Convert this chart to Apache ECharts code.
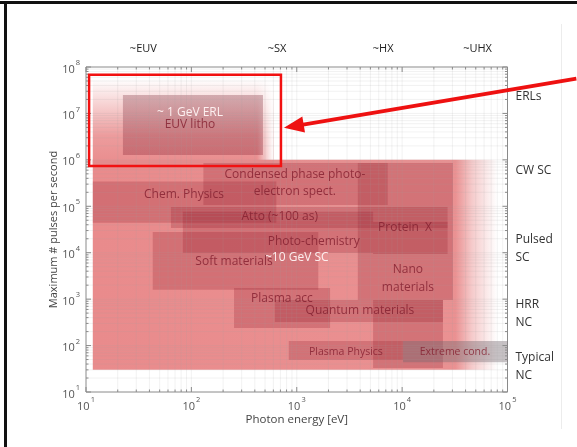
<!DOCTYPE html>
<html>
<head>
<meta charset="utf-8">
<script src="https://cdn.jsdelivr.net/npm/echarts@6/dist/echarts.min.js"></script>
<style>
html, body { margin: 0; padding: 0; background: #fff; }
#chart { width: 577px; height: 447px; }
</style>
</head>
<body>
<div id="chart"></div>
<script>
// ---- Axis ranges ----
const energyRange = [10, 1e5];        // photon energy [eV]
const pulseRange = [10, 1e8];         // max pulses per second

// ---- Application regions (energy span [eV], pulse-rate span [1/s]) ----
const regionNames = ['Condensed phase', 'Chem. Physics', 'Atto', 'Photo-chemistry', 'Soft materials',
  'Plasma acc', 'Quantum materials', 'Plasma Physics', 'Nano materials', 'Protein X', 'Nano column', 'Extreme cond.'];
const regionEmin = [130, 11.6, 64, 83, 43, 254, 620, 840, 3800, 5300, 5300, 10200];
const regionEmax = [7300, 640, 27000, 5300, 1600, 2070, 24400, 10200, 30400, 27000, 24400, 1e5];
const regionNmin = [1.07e5, 4.4e4, 3.4e4, 9.9e3, 1.6e3, 240, 320, 49, 960, 9.4e3, 33, 44];
const regionNmax = [8.6e5, 3.4e5, 9.7e4, 7.6e4, 2.8e4, 1.74e3, 960, 126, 8.6e5, 4.6e4, 960, 126];

// ---- Source envelopes ----
const cwEnvelopeE = [11.6, 8e4];      // energy span, fades out above cwFadeStart
const cwFadeStart = 3.2e4;
const cwEnvelopeN = [30, 1e6];
const erlEnvelopeE = [11.6, 600];
const erlFadeStart = 420;
const erlEnvelopeN = [7.4e5, 5.5e7];
const erlCoreE = [22.4, 478];
const erlCoreN = [1.28e6, 2.5e7];

// ---- Highlight box around the ERL region ----
const highlightE = [10.7, 708];
const highlightN = [7.4e5, 6.8e7];
const arrowTip = [708, 4.9e6];
const arrowTail = [4.5e5, 5.6e7];

// ---- Region labels ----
const labelTexts = ['~ 1 GeV ERL', 'EUV litho', 'Condensed phase photo-', 'electron spect.', 'Chem. Physics',
  'Atto (~100 as)', 'Protein  X', 'Photo-chemistry', '~10 GeV SC', 'Soft materials', 'Nano', 'materials',
  'Plasma acc', 'Quantum materials', 'Plasma Physics', 'Extreme cond.'];
const labelE = [97, 97, 960, 960, 85, 690, 10650, 1450, 1000, 254, 11350, 11350, 724, 3980, 2930, 31700];
const labelN = [1.02e7, 5.7e6, 4.75e5, 2.04e5, 1.76e5, 5.9e4, 3.4e4, 1.71e4, 7.7e3, 6.3e3, 4.3e3, 1.74e3, 1.01e3, 557, 73, 71];

// ---- Spectral bands along the top ----
const bandNames = ['~EUV', '~SX', '~HX', '~UHX'];
const bandE = [35, 650, 6600, 52000];

// ---- Source classes along the right ----
const sourceNames = ['ERLs', 'CW SC', 'Pulsed\nSC', 'HRR\nNC', 'Typical\nNC'];
const sourceN = [2.3e7, 6e5, 1.2e4, 500, 36];

// ---- Styles ----
const FONT = '"Open Sans", "DejaVu Sans", sans-serif';
const baseRed = '233,139,140';
const overlayFill = 'rgba(150,38,52,0.27)';
const grayFill = 'rgba(118,108,114,0.42)';
const whiteLabels = new Set(['~ 1 GeV ERL', '~10 GeV SC']);
const smallLabels = new Set(['Plasma Physics', 'Extreme cond.']);

const chart = echarts.init(document.getElementById('chart'), null, { renderer: 'canvas' });

function rectFrom(api, e0, e1, n0, n1) {
  const a = api.coord([e0, n1]);
  const b = api.coord([e1, n0]);
  return { x: a[0], y: a[1], width: b[0] - a[0], height: b[1] - a[1] };
}

function supLabel(v) {
  const exp = Math.round(Math.log10(v));
  return '{b|10}{s|' + exp + '}';
}
const supRich = {
  b: { fontSize: 11, fontFamily: FONT, color: '#555', lineHeight: 16, verticalAlign: 'bottom' },
  s: { fontSize: 7.5, fontFamily: FONT, color: '#555', lineHeight: 16, verticalAlign: 'top', padding: [0, 0, 0, 1] }
};

// Envelopes: CW background with right fade, ERL region fading upward
function renderEnvelopes(params, api) {
  const lg = Math.log10;
  const cw = rectFrom(api, cwEnvelopeE[0], cwEnvelopeE[1], cwEnvelopeN[0], cwEnvelopeN[1]);
  const cwStop = (lg(cwFadeStart) - lg(cwEnvelopeE[0])) / (lg(cwEnvelopeE[1]) - lg(cwEnvelopeE[0]));
  const erl = rectFrom(api, erlEnvelopeE[0], erlEnvelopeE[1], erlEnvelopeN[0], erlEnvelopeN[1]);
  const erlFade = rectFrom(api, erlFadeStart, erlEnvelopeE[1], cwEnvelopeN[1], erlEnvelopeN[1]);
  const core = rectFrom(api, erlCoreE[0], erlCoreE[1], erlCoreN[0], erlCoreN[1]);
  return {
    type: 'group',
    children: [
      {
        type: 'rect', shape: cw,
        style: {
          fill: new echarts.graphic.LinearGradient(0, 0, 1, 0, [
            { offset: 0, color: 'rgba(' + baseRed + ',1)' },
            { offset: cwStop, color: 'rgba(' + baseRed + ',0.95)' },
            { offset: cwStop + (1 - cwStop) * 0.4, color: 'rgba(' + baseRed + ',0.45)' },
            { offset: 1, color: 'rgba(' + baseRed + ',0)' }
          ])
        }
      },
      {
        type: 'rect', shape: erl,
        style: {
          fill: new echarts.graphic.LinearGradient(0, 1, 0, 0, [
            { offset: 0, color: 'rgba(' + baseRed + ',1)' },
            { offset: 0.35, color: 'rgba(' + baseRed + ',0.85)' },
            { offset: 0.7, color: 'rgba(' + baseRed + ',0.4)' },
            { offset: 1, color: 'rgba(' + baseRed + ',0)' }
          ])
        }
      },
      {
        type: 'rect', shape: erlFade,
        style: {
          fill: new echarts.graphic.LinearGradient(0, 0, 1, 0, [
            { offset: 0, color: 'rgba(255,255,255,0)' },
            { offset: 1, color: 'rgba(255,255,255,1)' }
          ])
        }
      },
      {
        type: 'rect', shape: core,
        style: {
          fill: new echarts.graphic.LinearGradient(0, 0, 0, 1, [
            { offset: 0, color: 'rgba(140,70,82,0.36)' },
            { offset: 1, color: 'rgba(145,45,60,0.36)' }
          ])
        }
      }
    ]
  };
}

function renderRegion(params, api) {
  const i = params.dataIndex;
  const r = rectFrom(api, api.value(0), api.value(1), api.value(2), api.value(3));
  return {
    type: 'rect', shape: r,
    style: { fill: regionNames[i] === 'Extreme cond.' ? grayFill : overlayFill }
  };
}

// Log grid, minor and major ticks on all four sides
function renderGrid(params, api) {
  const children = [];
  const bl = api.coord([energyRange[0], pulseRange[0]]);
  const tr = api.coord([energyRange[1], pulseRange[1]]);
  const left = bl[0], bottom = bl[1], right = tr[0], top = tr[1];
  const gridStyle = { stroke: 'rgba(160,160,160,0.14)', lineWidth: 1 };
  const tickStyle = { stroke: '#8a8a8a', lineWidth: 1 };
  for (let d = Math.log10(energyRange[0]); d < Math.log10(energyRange[1]) + 0.5; d++) {
    for (let m = 1; m <= 9; m++) {
      const v = m * Math.pow(10, d);
      if (v < energyRange[0] || v > energyRange[1]) continue;
      const x = api.coord([v, pulseRange[0]])[0];
      const len = m === 1 ? 5 : 2.5;
      if (m !== 1 || (v > energyRange[0] && v < energyRange[1]))
        children.push({ type: 'line', shape: { x1: x, y1: top, x2: x, y2: bottom }, style: gridStyle, z2: 1 });
      children.push({ type: 'line', shape: { x1: x, y1: bottom, x2: x, y2: bottom - len }, style: tickStyle, z2: 2 });
      children.push({ type: 'line', shape: { x1: x, y1: top, x2: x, y2: top + len }, style: tickStyle, z2: 2 });
    }
  }
  for (let d = Math.log10(pulseRange[0]); d < Math.log10(pulseRange[1]) + 0.5; d++) {
    for (let m = 1; m <= 9; m++) {
      const v = m * Math.pow(10, d);
      if (v < pulseRange[0] || v > pulseRange[1]) continue;
      const y = api.coord([energyRange[0], v])[1];
      const len = m === 1 ? 5 : 2.5;
      if (m !== 1 || (v > pulseRange[0] && v < pulseRange[1]))
        children.push({ type: 'line', shape: { x1: left, y1: y, x2: right, y2: y }, style: gridStyle, z2: 1 });
      children.push({ type: 'line', shape: { x1: left, y1: y, x2: left + len, y2: y }, style: tickStyle, z2: 2 });
      children.push({ type: 'line', shape: { x1: right, y1: y, x2: right - len, y2: y }, style: tickStyle, z2: 2 });
    }
  }
  return { type: 'group', children };
}

function renderLabel(params, api) {
  const i = params.dataIndex;
  const p = api.coord([api.value(0), api.value(1)]);
  const t = labelTexts[i];
  const white = whiteLabels.has(t);
  return {
    type: 'text', x: p[0], y: p[1],
    style: {
      text: t,
      fill: white ? 'rgba(255,244,244,0.95)' : 'rgba(132,32,48,0.82)',
      fontSize: smallLabels.has(t) ? 10.5 : 12,
      fontFamily: FONT,
      align: 'center', verticalAlign: 'middle'
    }
  };
}

function renderBands(params, api) {
  const p = api.coord([api.value(0), api.value(1)]);
  return {
    type: 'text', x: p[0], y: p[1] - 18,
    style: { text: bandNames[params.dataIndex], fill: '#222', fontSize: 11, fontFamily: FONT, align: 'center', verticalAlign: 'middle' }
  };
}

function renderSources(params, api) {
  const p = api.coord([api.value(0), api.value(1)]);
  return {
    type: 'text', x: p[0] + 8, y: p[1],
    style: { text: sourceNames[params.dataIndex], fill: '#333', fontSize: 12, lineHeight: 18, fontFamily: FONT, align: 'left', verticalAlign: 'middle' }
  };
}

function renderHighlight(params, api) {
  const r = rectFrom(api, highlightE[0], highlightE[1], highlightN[0], highlightN[1]);
  const tip = api.coord(arrowTip);
  tip[0] += 3;
  const tail = api.coord(arrowTail);
  const dx = tail[0] - tip[0], dy = tail[1] - tip[1];
  const L = Math.sqrt(dx * dx + dy * dy);
  const ux = dx / L, uy = dy / L;
  const headLen = 20, headHalf = 8;
  const bx = tip[0] + ux * headLen, by = tip[1] + uy * headLen;
  return {
    type: 'group',
    children: [
      { type: 'rect', shape: r, style: { fill: 'none', stroke: '#f21111', lineWidth: 2.5 } },
      { type: 'line', shape: { x1: bx - ux * 2, y1: by - uy * 2, x2: tail[0], y2: tail[1] }, style: { stroke: '#ee1111', lineWidth: 3.8 } },
      {
        type: 'polygon',
        shape: { points: [tip, [bx - uy * headHalf, by + ux * headHalf], [bx + uy * headHalf, by - ux * headHalf]] },
        style: { fill: '#ee1111' }
      }
    ]
  };
}

const regionData = regionNames.map((n, i) => [regionEmin[i], regionEmax[i], regionNmin[i], regionNmax[i]]);
const labelData = labelTexts.map((t, i) => [labelE[i], labelN[i]]);

chart.setOption({
  animation: false,
  backgroundColor: '#fff',
  grid: { left: 86, top: 67, width: 421.5, height: 325, show: true, borderColor: '#8a8a8a', borderWidth: 1, backgroundColor: 'transparent' },
  xAxis: {
    type: 'log', logBase: 10, min: energyRange[0], max: energyRange[1],
    name: 'Photon energy [eV]', nameLocation: 'middle', nameGap: 22, nameMoveOverlap: false,
    nameTextStyle: { fontFamily: FONT, fontSize: 11.5, color: '#444' },
    axisLine: { show: false }, axisTick: { show: false }, splitLine: { show: false },
    axisLabel: { formatter: supLabel, rich: supRich, margin: 4 }
  },
  yAxis: {
    type: 'log', logBase: 10, min: pulseRange[0], max: pulseRange[1],
    name: 'Maximum # pulses per second', nameLocation: 'middle', nameGap: 27, nameMoveOverlap: false,
    nameTextStyle: { fontFamily: FONT, fontSize: 11, color: '#444' },
    axisLine: { show: false }, axisTick: { show: false }, splitLine: { show: false },
    axisLabel: { formatter: supLabel, rich: supRich, margin: 6 }
  },
  graphic: [
    { type: 'rect', left: 0, top: 1, shape: { width: 577, height: 3 }, style: { fill: '#111' }, z: 100 },
    { type: 'rect', left: 4, top: 1, shape: { width: 3, height: 446 }, style: { fill: '#111' }, z: 100 },
    { type: 'rect', left: 561, top: 24, shape: { width: 1, height: 405 }, style: { fill: '#ececec' }, z: 1 }
  ],
  series: [
    { type: 'custom', name: 'envelopes', renderItem: renderEnvelopes, data: [[energyRange[0], pulseRange[0]]], z: 1, silent: true },
    { type: 'custom', name: 'regions', renderItem: renderRegion, data: regionData, encode: { x: [0, 1], y: [2, 3] }, z: 2, silent: true },
    { type: 'custom', name: 'grid', renderItem: renderGrid, data: [[energyRange[0], pulseRange[0]]], z: 3, silent: true },
    { type: 'custom', name: 'labels', renderItem: renderLabel, data: labelData, z: 4, silent: true },
    { type: 'custom', name: 'bands', renderItem: renderBands, data: bandE.map(e => [e, pulseRange[1]]), z: 4, silent: true },
    { type: 'custom', name: 'sources', renderItem: renderSources, data: sourceN.map(n => [energyRange[1], n]), z: 4, silent: true },
    { type: 'custom', name: 'highlight', renderItem: renderHighlight, data: [[highlightE[0], highlightN[0]]], z: 5, silent: true }
  ]
});
</script>
</body>
</html>
